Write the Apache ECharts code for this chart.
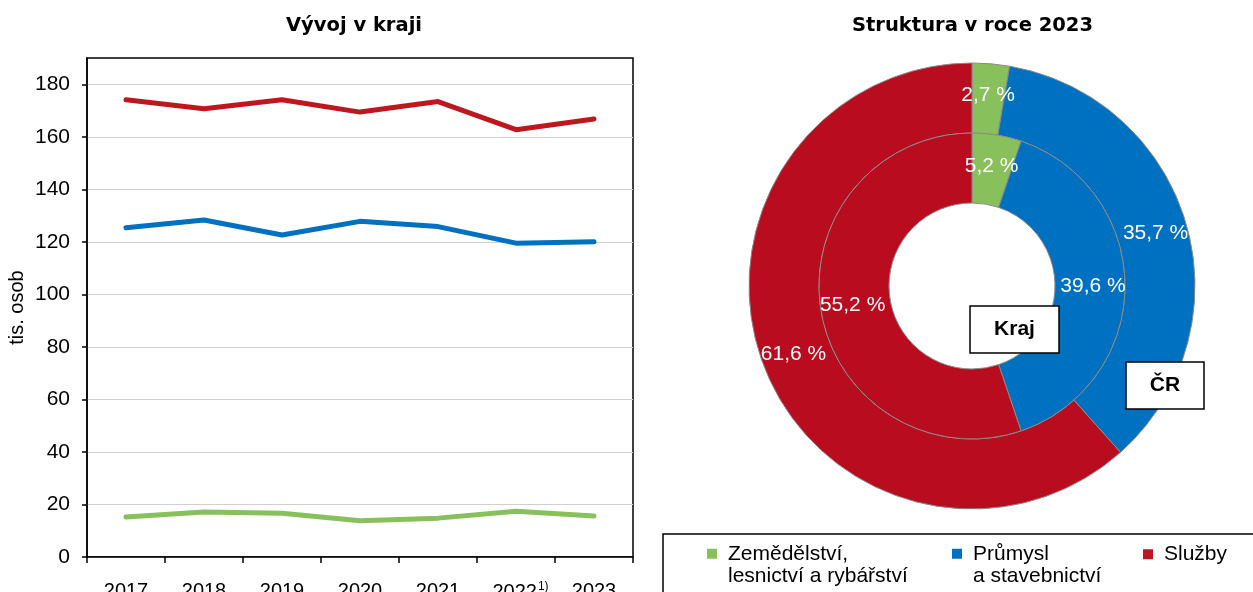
<!DOCTYPE html>
<html>
<head>
<meta charset="utf-8">
<script src="https://cdn.jsdelivr.net/npm/echarts@6/dist/echarts.min.js"></script>
<style>
  html, body { margin: 0; padding: 0; background: #fff; }
  #chart { width: 1253px; height: 592px; }
</style>
</head>
<body>
<div id="chart"></div>
<script>
// vyvoj v kraji (tis. osob)
const years = ['2017', '2018', '2019', '2020', '2021', '2022', '2023']
const zemedelstvi = [15.2, 17.1, 16.7, 13.8, 14.8, 17.4, 15.6]
const prumysl = [125.4, 128.3, 122.6, 127.8, 125.8, 119.5, 120.0]
const sluzby = [174.1, 170.7, 174.1, 169.4, 173.4, 162.7, 166.8]
const yTicks = [0, 20, 40, 60, 80, 100, 120, 140, 160, 180]

// struktura v roce 2023 (%)
const sectors = ['Zemědělství', 'Průmysl', 'Služby']
const legendLabels = ['Zemědělství,\nlesnictví a rybářství', 'Průmysl\na stavebnictví', 'Služby']
const krajShares = [5.2, 39.6, 55.2]
const crShares = [2.7, 35.7, 61.6]

const GREEN = '#88C05C'
const BLUE = '#0070C0'
const RED = '#BA0C1F'
const LINE_RED = '#C0171F'
const FONT = 'Liberation Sans'

const chart = echarts.init(document.getElementById('chart'))

const pct = v => v.toFixed(1).replace('.', ',') + ' %'

const pieBase = {
    type: 'pie',
    center: [972, 286],
    startAngle: 90,
    clockwise: true,
    silent: true,
    emphasis: { disabled: true },
    itemStyle: { borderColor: '#8a8a8a', borderWidth: 1 },
    label: {
        show: true,
        position: 'inside',
        color: '#fff',
        fontSize: 21,
        fontFamily: FONT,
        formatter: p => pct(p.value)
    },
    labelLine: { show: false }
}

const legendFor = (i, left, top) => ({
    data: [sectors[i]],
    left: left,
    top: top,
    padding: 0,
    icon: 'rect',
    itemWidth: 10,
    itemHeight: 10,
    selectedMode: false,
    formatter: name => (i < 2 ? '\n' : '') + legendLabels[sectors.indexOf(name)],
    textStyle: {
        fontSize: 21,
        fontFamily: FONT,
        color: '#000',
        lineHeight: 22.5,
        padding: [0, 0, 0, 6]
    }
})

const titleStyle = { fontFamily: 'DejaVu Sans', fontWeight: 'bold', fontSize: 19.5, color: '#000' }

const option = {
    animation: false,
    color: [GREEN, BLUE, RED],
    textStyle: { fontFamily: FONT },
    title: [
        { text: 'Vývoj v kraji', left: 281, top: 11, textStyle: titleStyle },
        { text: 'Struktura v roce 2023', left: 847, top: 11, textStyle: titleStyle }
    ],
    legend: [
        legendFor(0, 707, 520),
        legendFor(1, 952, 520),
        legendFor(2, 1143, 543)
    ],
    grid: {
        left: 87,
        right: 620,
        top: 58,
        bottom: 35,
        outerBoundsMode: 'none',
        show: true,
        borderColor: '#000',
        borderWidth: 1.5
    },
    xAxis: {
        type: 'category',
        data: years,
        boundaryGap: true,
        axisLine: { lineStyle: { color: '#000', width: 1.5 } },
        axisTick: { show: true, interval: 0, length: 6, lineStyle: { color: '#000', width: 1.5 } },
        axisLabel: {
            interval: 0,
            margin: 24,
            fontSize: 20,
            color: '#000',
            formatter: v => v === '2022' ? '{a|2022}{s|1)}' : v,
            rich: {
                a: { fontSize: 20, color: '#000', padding: [0, 0, 0, 9] },
                s: { fontSize: 12, color: '#000', verticalAlign: 'top', padding: [0, 0, 10, 1] }
            }
        },
        splitLine: { show: false }
    },
    yAxis: {
        type: 'value',
        min: 0,
        max: 190,
        interval: 20,
        name: 'tis. osob',
        nameLocation: 'middle',
        nameRotate: 90,
        nameGap: 60,
        nameTextStyle: { fontSize: 20, color: '#000' },
        axisLine: { show: true, lineStyle: { color: '#000', width: 1.5 } },
        axisTick: { show: true, length: 5, customValues: yTicks, lineStyle: { color: '#000', width: 1.5 } },
        axisLabel: { fontSize: 21, color: '#000', margin: 17, customValues: yTicks },
        splitLine: { show: true, lineStyle: { color: '#d0d0d0', width: 1 } }
    },
    graphic: [
        {
            type: 'rect',
            shape: { x: 663, y: 534, width: 700, height: 100 },
            style: { fill: 'none', stroke: '#000', lineWidth: 1.5 },
            silent: true
        },
        {
            type: 'group',
            children: [
                {
                    type: 'rect',
                    shape: { x: 970, y: 306, width: 89, height: 47 },
                    style: { fill: '#fff', stroke: '#000', lineWidth: 1.5 },
                    z: 100
                },
                {
                    type: 'text',
                    x: 1014.5,
                    y: 329.5,
                    style: { text: 'Kraj', fill: '#000', font: 'bold 21px "Liberation Sans"', align: 'center', verticalAlign: 'middle' },
                    z: 101
                },
                {
                    type: 'rect',
                    shape: { x: 1126, y: 362, width: 78, height: 47 },
                    style: { fill: '#fff', stroke: '#000', lineWidth: 1.5 },
                    z: 100
                },
                {
                    type: 'text',
                    x: 1165,
                    y: 385.5,
                    style: { text: 'ČR', fill: '#000', font: 'bold 21px "Liberation Sans"', align: 'center', verticalAlign: 'middle' },
                    z: 101
                }
            ]
        }
    ],
    series: [
        Object.assign({}, pieBase, {
            name: 'ČR',
            radius: [153, 223],
            data: sectors.map((s, i) => ({ name: s, value: crShares[i] }))
        }),
        Object.assign({}, pieBase, {
            name: 'Kraj',
            radius: [83, 153],
            data: sectors.map((s, i) => ({ name: s, value: krajShares[i] }))
        }),
        {
            name: 'Služby',
            type: 'line',
            data: sluzby,
            showSymbol: false,
            color: LINE_RED,
            lineStyle: { width: 5, color: LINE_RED, cap: 'round', join: 'round' }
        },
        {
            name: 'Průmysl',
            type: 'line',
            data: prumysl,
            showSymbol: false,
            color: BLUE,
            lineStyle: { width: 5, color: BLUE, cap: 'round', join: 'round' }
        },
        {
            name: 'Zemědělství',
            type: 'line',
            data: zemedelstvi,
            showSymbol: false,
            color: GREEN,
            lineStyle: { width: 5, color: GREEN, cap: 'round', join: 'round' }
        }
    ]
}

chart.setOption(option)
</script>
</body>
</html>
